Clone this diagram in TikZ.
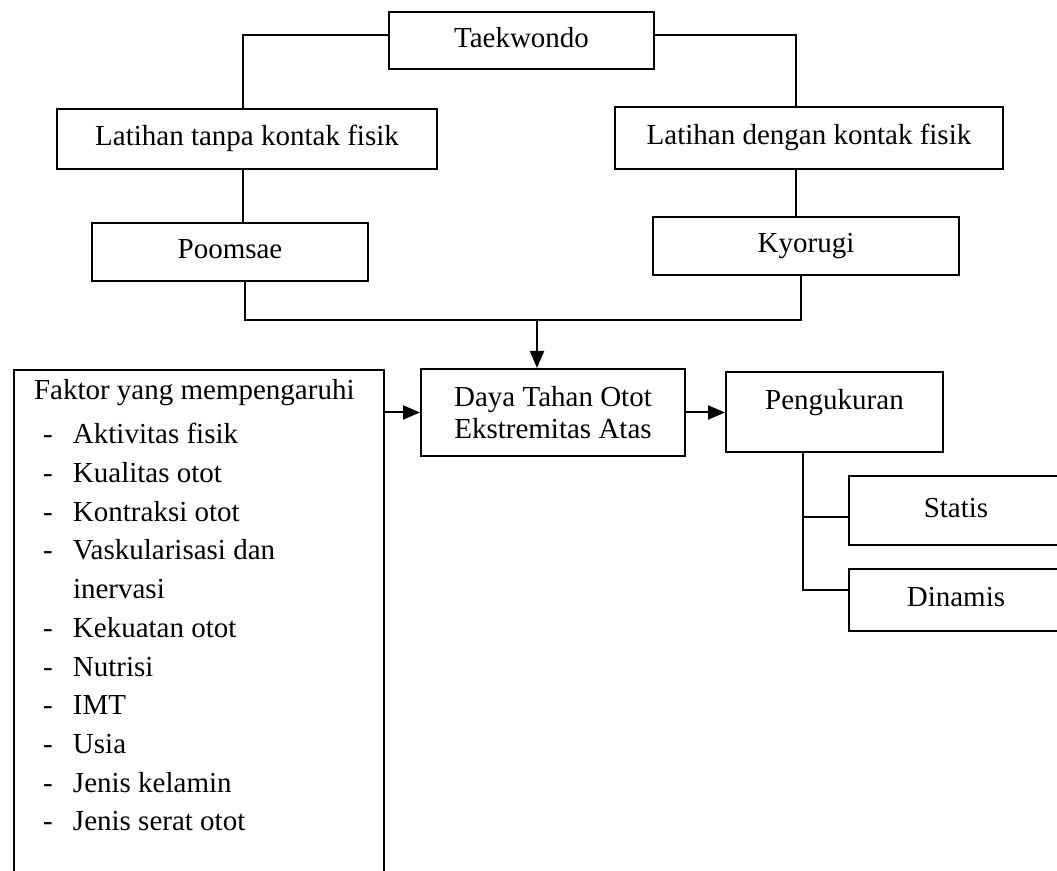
\documentclass[tikz,border=0pt]{standalone}
\usepackage{fontspec}
\setmainfont{Liberation Serif}
\usetikzlibrary{arrows.meta, positioning}

\newcommand{\fitem}[1]{\hspace*{4.5pt}\makebox[15pt][l]{-}#1}

\begin{document}
\begin{tikzpicture}[
    x=0.5pt, y=-0.5pt,
    font=\fontsize{14.5pt}{16pt}\selectfont,
    >={Triangle[length=8.5pt,width=7pt]},
    box/.style={draw, line width=1pt, inner sep=0pt, anchor=north west, align=center},
    onebox/.style={box, text height=10pt, text depth=3pt},
    wire/.style={line width=1pt},
    line/.style={wire, ->}
]
\useasboundingbox (0,0) rectangle (1057,871);

% Top
\node[onebox, minimum width=132.5pt, minimum height=28.5pt] (tkd) at (388,11) {Taekwondo};

% Two kinds of training
\node[onebox, minimum width=190pt, minimum height=30pt] (tanpa) at (56,108) {Latihan tanpa kontak fisik};
\node[onebox, minimum width=194pt, minimum height=31pt] (dengan) at (614,106) {Latihan dengan kontak fisik};

\node[onebox, minimum width=138pt, minimum height=29pt, below=26pt of tanpa, xshift=-8.5pt] (poomsae) {Poomsae};
\node[onebox, minimum width=153pt, minimum height=29pt, below=23pt of dengan, xshift=-1.5pt] (kyorugi) {Kyorugi};

% Middle row
\node[box, inner xsep=10pt, inner ysep=4.5pt] (faktor) at (13,369)
{\parbox[t][255pt][t]{165pt}{\fontsize{14.5pt}{19.35pt}\selectfont\raggedright
Faktor yang mempengaruhi\\[3pt]
\fitem{Aktivitas fisik}\\
\fitem{Kualitas otot}\\
\fitem{Kontraksi otot}\\
\fitem{Vaskularisasi dan}\\
\hspace*{19.5pt}inervasi\\
\fitem{Kekuatan otot}\\
\fitem{Nutrisi}\\
\fitem{IMT}\\
\fitem{Usia}\\
\fitem{Jenis kelamin}\\
\fitem{Jenis serat otot}}};

\node[box, minimum width=132pt, minimum height=43.5pt] (daya) at (420,368) {Daya Tahan Otot\\Ekstremitas Atas};
\node[onebox, text depth=13pt, minimum width=108.5pt, minimum height=40pt, right=19.5pt of daya] (peng) {Pengukuran};

% Measurement kinds
\node[onebox, minimum width=107pt, minimum height=34.5pt] (statis) at (848,475) {Statis};
\node[onebox, minimum width=107pt, minimum height=31pt, below=11pt of statis] (dinamis) {Dinamis};

% Connections
\draw[wire] ([yshift=2.75pt]tkd.west) -| ([xshift=-2pt]tanpa.north);
\draw[wire] ([yshift=2.75pt]tkd.east) -| ([xshift=-6.5pt]dengan.north);

\draw[wire] ([xshift=-2pt]tanpa.south) -- ([xshift=6.5pt]poomsae.north);
\draw[wire] ([xshift=-6.5pt]dengan.south) -- ([xshift=-5pt]kyorugi.north);

% Both branches join above Daya Tahan Otot
\coordinate (join) at (537,320);
\draw[wire] ([xshift=7.5pt]poomsae.south) |- (join) -| ([xshift=-2.5pt]kyorugi.south);
\draw[line] (join) -- (join |- daya.north);

\draw[line] (daya.west -| faktor.east) -- (daya.west);
\draw[line] (daya.east) -- (daya.east -| peng.west);

% Split to Statis and Dinamis
\coordinate (split) at ([xshift=-15.75pt]peng.south);
\coordinate (sb) at ([yshift=-3.25pt]statis.west);
\draw[wire] (split) |- ([yshift=5pt]dinamis.west);
\draw[wire] (sb -| split) -- (sb);

\end{tikzpicture}
\end{document}
